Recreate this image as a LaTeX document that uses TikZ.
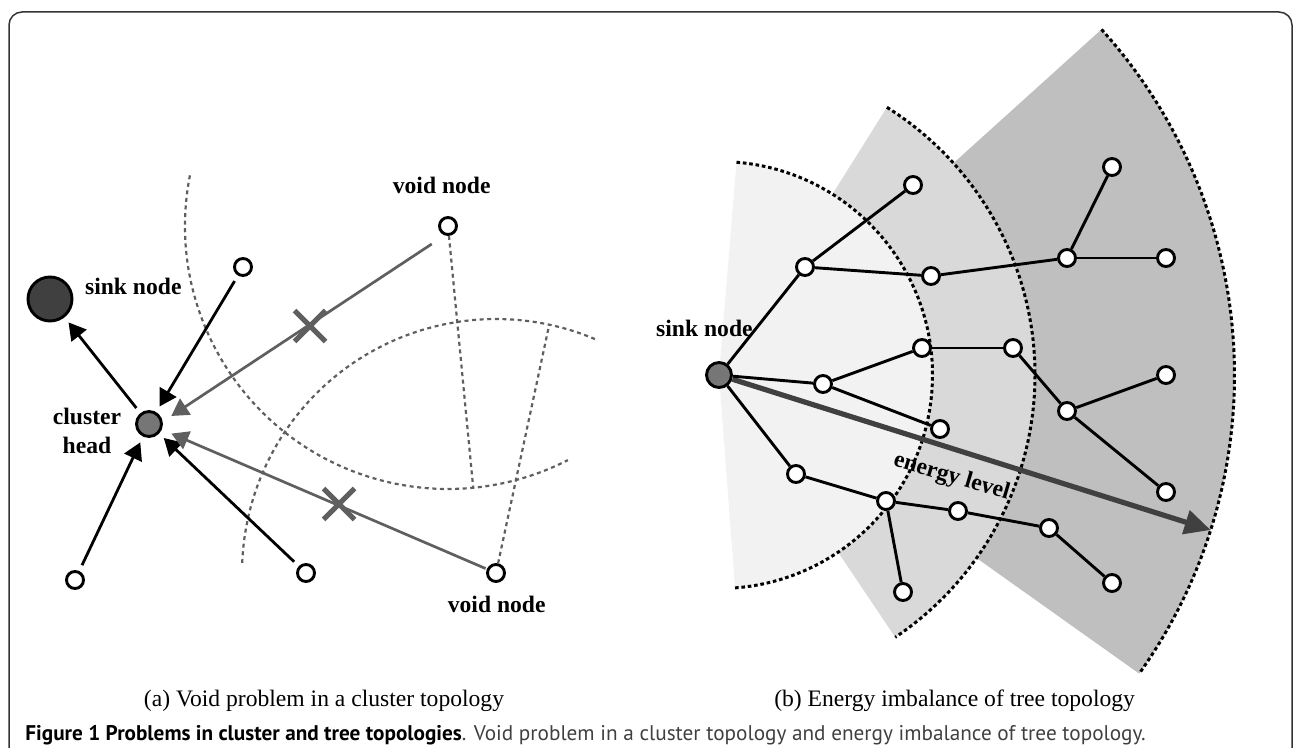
\documentclass[tikz,border=0pt]{standalone}
\usepackage{fontspec}
\setmainfont{Liberation Serif}
\newfontfamily\capfont{PT Sans}
\usetikzlibrary{arrows.meta,shapes.misc,calc}
\definecolor{linegray}{HTML}{5F5F5F}
\definecolor{sinkgray}{HTML}{404040}
\definecolor{headgray}{HTML}{767676}
\definecolor{fanL}{HTML}{F2F2F2}
\definecolor{fanM}{HTML}{D9D9D9}
\definecolor{fanD}{HTML}{BFBFBF}
\definecolor{energygray}{HTML}{404040}
\definecolor{framegray}{HTML}{333333}
\definecolor{capgray}{HTML}{404040}

\begin{document}
\begin{tikzpicture}
        [x=0.5pt, y=-0.5pt, every node/.style={inner sep=0},
         dot/.style={draw,shape=circle,fill=white,line width=1.45pt,minimum size=8.5pt},
         lbl/.style={font=\fontsize{11.8}{14.2}\selectfont\bfseries},
         subcap/.style={font=\fontsize{11.8}{14.2}\selectfont},
         blackarrow/.style={line width=1.4pt,-{Triangle[length=8.5pt,width=9.5pt]},shorten >=3.2pt,shorten <=3.2pt},
         grayarrow/.style={draw=linegray,line width=1.35pt,-{Triangle[length=8.5pt,width=9.5pt]}},
         rangearc/.style={draw=linegray,line width=1.1pt,dash pattern=on 2pt off 1.8pt},
         crossmark/.style={draw=linegray,cross out,line width=2.5pt,minimum size=13pt},
         fanarc/.style={line width=1.5pt,dash pattern=on 1.8pt off 1.4pt},
         treeedge/.style={line width=1.45pt},
         energy/.style={draw=energygray,line width=2.6pt,-{Triangle[length=13pt,width=12pt]}}]

        \useasboundingbox (0,0) rectangle (1293,748);
        \clip (0,0) rectangle (1293,748);
        \draw[framegray, line width=0.75pt, rounded corners=6.5pt] (9,12) rectangle (1292,800);

        \coordinate (o) at (719,375);
        \fill[fanD] (o) -- ++(-42.1:515.5) arc[start angle=-42.1, end angle=35.4, radius=515.5] -- cycle;
        \fill[fanM] (o) -- ++(-57.9:316) arc[start angle=-57.9, end angle=56.1, radius=316] -- cycle;
        \fill[fanL] (o) -- ++(-85.3:213.5) arc[start angle=-85.3, end angle=85.7, radius=213.5] -- cycle;
        \draw[fanarc] (o) ++(-42.1:515.5) arc[start angle=-42.1, end angle=35.4, radius=515.5];
        \draw[fanarc] (o) ++(-57.9:316) arc[start angle=-57.9, end angle=56.1, radius=316];
        \draw[fanarc] (o) ++(-85.3:213.5) arc[start angle=-85.3, end angle=85.7, radius=213.5];

        \node[dot, minimum size=22pt, fill=sinkgray] (snkA) at (50,299) {};
        \node[dot, minimum size=12.5pt, fill=headgray] (chd) at (149,424) {};
        \node[dot] (p1) at (243,267) {};
        \node[dot] (p2) at (75,580) {};
        \node[dot] (p3) at (306,573) {};
        \node[dot] (vd1) at (448,226) {};
        \node[dot] (vd2) at (496,573) {};

        \node[lbl, anchor=base] (tsa) at (133.3,294) {sink node};
        \node[lbl, align=center] (tch) at (87,431) {cluster\\head};
        \node[lbl, anchor=base] (tv1) at (441.7,194) {void node};
        \node[lbl, anchor=base] (tv2) at (496.7,612.5) {void node};

        \coordinate (r1) at ($(vd1)+(84.5:263)$);
        \coordinate (r2) at ($(vd2)+(-77.9:254)$);
        \draw[rangearc] (vd1.center) ++(-168.9:263) arc[start angle=-168.9, end angle=-297.1, radius=263];
        \draw[rangearc] (vd2.center) ++(-177.7:254) arc[start angle=-177.7, end angle=-66.6, radius=254];
        \draw[rangearc] (vd1) -- (r1);
        \draw[rangearc] (vd2) -- (r2);

        \draw[blackarrow] (chd) -- (snkA);
        \draw[blackarrow] (p1) -- (chd);
        \draw[blackarrow] (p2) -- (chd);
        \draw[blackarrow] (p3) -- (chd);
        \draw[grayarrow, shorten <=7.8pt, shorten >=5.1pt] (vd1.251) -- (chd.10);
        \draw[grayarrow, shorten <=0.7pt, shorten >=5.2pt] (vd2) -- (chd);
        \node[crossmark] (x1) at (310,326) {};
        \node[crossmark] (x2) at (339,504) {};

        \node[dot, minimum size=12.5pt, fill=headgray] (snkB) at (o) {};
        \node[dot] (a1) at (805,267) {};
        \node[dot] (a2) at (913,185) {};
        \node[dot] (a3) at (931,276) {};
        \node[dot] (a4) at (1067,258) {};
        \node[dot] (a5) at (1112,167) {};
        \node[dot] (a6) at (1166,258) {};
        \node[dot] (b1) at (823,384) {};
        \node[dot] (b2) at (922,348) {};
        \node[dot] (b3) at (1013,348) {};
        \node[dot] (b4) at (940,429) {};
        \node[dot] (b5) at (1067,411) {};
        \node[dot] (b6) at (1166,375) {};
        \node[dot] (b7) at (1166,492) {};
        \node[dot] (c1) at (796,474) {};
        \node[dot] (c2) at (886,501) {};
        \node[dot] (c3) at (958,511) {};
        \node[dot] (c4) at (903,592) {};
        \node[dot] (c5) at (1049,528) {};
        \node[dot] (c6) at (1112,583) {};

        \coordinate (etip) at ($(o)+(17.5:515.5)$);
        \draw[energy] (snkB) -- (etip);

        \draw[treeedge] (snkB) -- (a1);
        \draw[treeedge] (a1) -- (a2);
        \draw[treeedge] (a1) -- (a3);
        \draw[treeedge] (a3) -- (a4);
        \draw[treeedge] (a4) -- (a5);
        \draw[treeedge] (a4) -- (a6);
        \draw[treeedge] (snkB) -- (b1);
        \draw[treeedge] (b1) -- (b2);
        \draw[treeedge] (b1) -- (b4);
        \draw[treeedge] (b2) -- (b3);
        \draw[treeedge] (b3) -- (b5);
        \draw[treeedge] (b5) -- (b6);
        \draw[treeedge] (b5) -- (b7);
        \draw[treeedge] (snkB) -- (c1);
        \draw[treeedge] (c1) -- (c2);
        \draw[treeedge] (c2) -- (c3);
        \draw[treeedge] (c2) -- (c4);
        \draw[treeedge] (c3) -- (c5);
        \draw[treeedge] (c5) -- (c6);

        \node[lbl, anchor=base east] (tsb) at (753,336) {sink node};
        \node[lbl, anchor=base, rotate=-16.5] (tel) at (950,482.7) {energy level};

        \node[subcap, anchor=base] (capa) at (324,706) {(a) Void problem in a cluster topology};
        \node[subcap, anchor=base] (capb) at (954.6,706) {(b) Energy imbalance of tree topology};
        \node[anchor=base west] (fig) at (25,740.5) {\resizebox{560pt}{!}{\capfont\textbf{Figure 1 Problems in cluster and tree topologies}\textcolor{capgray}{. Void problem in a cluster topology and energy imbalance of tree topology.}}};
      \end{tikzpicture}
\end{document}
